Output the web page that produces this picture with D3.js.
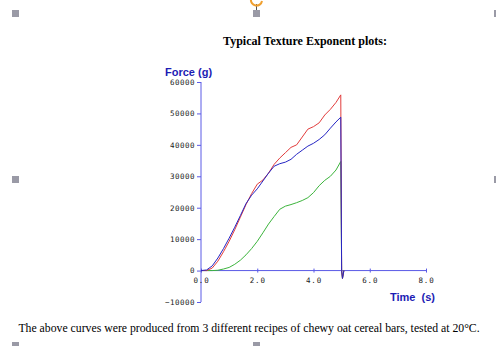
<!DOCTYPE html>
<html><head><meta charset="utf-8">
<script src="https://cdn.jsdelivr.net/npm/d3@7"></script>
<style>body{margin:0;background:#fff;} svg{display:block;}</style>
</head><body>
<script>
const title = "Typical Texture Exponent plots:";
const caption = "The above curves were produced from 3 different recipes of chewy oat cereal bars, tested at 20\u00B0C.";
const yLabel = "Force (g)";
const xLabel = "Time  (s)";
const xTicks = [0, 2, 4, 6, 8];
const yTicks = [-10000, 0, 10000, 20000, 30000, 40000, 50000, 60000];
const time = [0, 0.2, 0.4, 0.6, 0.8, 1.0, 1.2, 1.4, 1.6, 1.8, 2.0, 2.2, 2.4, 2.6, 2.8, 3.0, 3.2, 3.4, 3.6, 3.8, 4.0, 4.2, 4.4, 4.6, 4.8, 4.97, 5.0, 5.03, 5.08];
const redForce = [0, 0, 800, 3000, 6000, 9300, 13000, 17000, 21000, 24500, 27500, 28800, 31000, 33800, 35800, 37500, 39200, 40000, 42500, 45000, 45800, 47000, 49500, 51300, 53500, 55900, 0, -2500, 0];
const blueForce = [0, 200, 1500, 4000, 7000, 10300, 13800, 17500, 21300, 24000, 26000, 28500, 31000, 33200, 34000, 34500, 35400, 37000, 38300, 39600, 40500, 41700, 43200, 45300, 47300, 48800, 0, -2500, 0];
const greenForce = [0, 0, 0, 100, 500, 1000, 2000, 3300, 5000, 7000, 9300, 12000, 14800, 17200, 19500, 20500, 21000, 21600, 22300, 23200, 24800, 27000, 28700, 30000, 32000, 34700, 0, -2500, 0];

const W = 496, H = 346;
const svg = d3.select("body").append("svg").attr("width", W).attr("height", H);

// selection handles (document image frame)
const handles = [[12,10],[253,10],[494,10],[12,176],[494,176],[12,342],[253,342]];
svg.selectAll("rect.h").data(handles).join("rect")
  .attr("x", d => d[0]).attr("y", d => d[1]).attr("width", 7).attr("height", 7).attr("fill", "#9a9aa6");
svg.append("line").attr("x1", 256.5).attr("x2", 256.5).attr("y1", 4).attr("y2", 10).attr("stroke", "#555").attr("stroke-width", 1);
svg.append("path").attr("d", "M251,-1 A5,5 0 0 0 262,1").attr("fill", "none").attr("stroke", "#f0a030").attr("stroke-width", 2);

const x = d3.scaleLinear().domain([0, 8]).range([201, 426]);
const y = d3.scaleLinear().domain([-10000, 60000]).range([302, 82]);
const axisColor = "#5a5ae6";

// title
svg.append("text").attr("x", 305).attr("y", 45).attr("text-anchor", "middle")
  .attr("font-family", "Liberation Serif").attr("font-weight", "bold").attr("font-size", 12).text(title);

// y axis
const yAxis = svg.append("g").attr("transform", `translate(${x(0)},0)`)
  .call(d3.axisLeft(y).tickValues(yTicks).tickSize(4).tickFormat(d3.format("d")));
yAxis.select(".domain").attr("stroke", axisColor).attr("d", `M0,${y(60000)}V${y(-10000)}`);
yAxis.selectAll(".tick line").attr("stroke", axisColor);
yAxis.selectAll(".tick text").attr("font-family", "DejaVu Sans Mono").attr("font-size", 7.5).attr("fill", "#222").attr("x", -6).attr("letter-spacing", 0.5);

// x axis at zero
const xAxis = svg.append("g").attr("transform", `translate(0,${y(0)})`)
  .call(d3.axisBottom(x).tickValues(xTicks).tickSize(3).tickFormat(d3.format(".1f")));
xAxis.select(".domain").attr("stroke", axisColor).attr("d", `M${x(0)},0H${x(8)}`);
xAxis.selectAll(".tick line").attr("stroke", axisColor).attr("y1", -2).attr("y2", 2);
xAxis.selectAll(".tick text").attr("font-family", "DejaVu Sans Mono").attr("font-size", 7.5).attr("fill", "#222").attr("y", 7).attr("letter-spacing", 0.8);

// axis titles
svg.append("text").attr("x", 165).attr("y", 76).attr("font-family", "Liberation Sans").attr("font-weight", "bold")
  .attr("font-size", 11).attr("fill", "#1c1cb4").text(yLabel);
svg.append("text").attr("x", 390).attr("y", 301).attr("font-family", "Liberation Sans").attr("font-weight", "bold")
  .attr("font-size", 11).attr("fill", "#1c1cb4").style("white-space", "pre").text(xLabel);

// series
const series = [
  {vals: greenForce, color: "#3cb43c"},
  {vals: redForce, color: "#e23c3c"},
  {vals: blueForce, color: "#2626c4"}
];
const line = d3.line().x((d, i) => x(time[i])).y(d => y(d));
svg.selectAll("path.s").data(series).join("path")
  .attr("fill", "none").attr("stroke", d => d.color).attr("stroke-width", 1)
  .attr("d", d => line(d.vals));

// caption
svg.append("text").attr("x", 249).attr("y", 332).attr("text-anchor", "middle")
  .attr("font-family", "Liberation Serif").attr("font-size", 11.75).text(caption);
</script>
</body></html>
